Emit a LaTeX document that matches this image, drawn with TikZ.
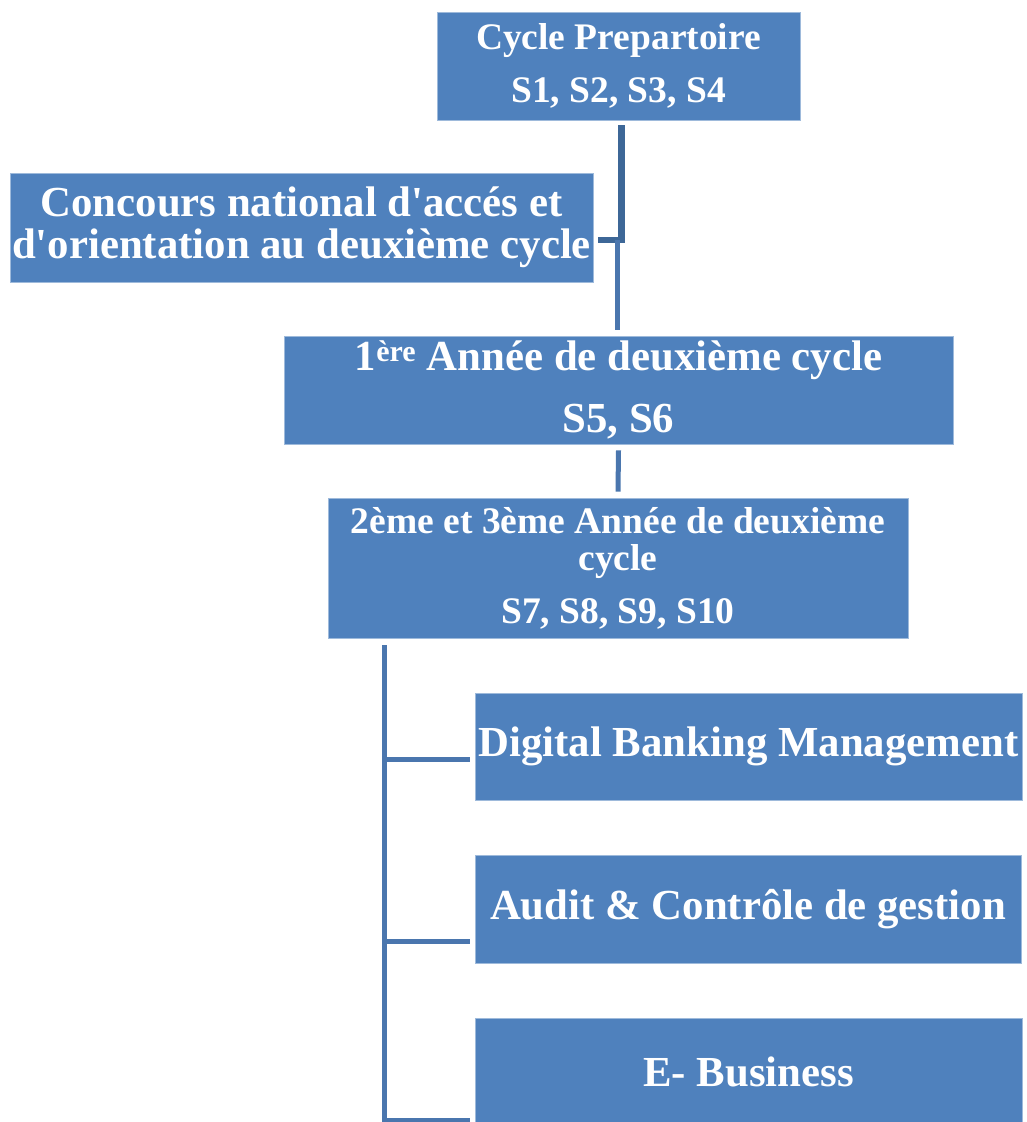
\documentclass[tikz,border=0pt]{standalone}
\usepackage{fontspec}
\setmainfont{Liberation Serif}
\usepackage{tikz}
\usetikzlibrary{calc,positioning}

\definecolor{boxblue}{HTML}{4F81BD}
\definecolor{linkblue}{HTML}{4A76AE}
\definecolor{darklink}{HTML}{3D6797}

\begin{document}
\begin{tikzpicture}[x=1pt,y=-1pt,
    stage/.style={fill=boxblue,draw=boxblue!55!white,line width=.8pt,
    text=white,align=center,inner sep=0pt},
    big/.style={font=\bfseries\fontsize{42.8}{42}\selectfont},
    small/.style={font=\bfseries\fontsize{37.5}{37}\selectfont},
    link/.style={draw=linkblue,line width=5pt},
    darklink/.style={draw=darklink,line width=6.5pt}]

  \useasboundingbox (0,0) rectangle (1027,1122);

  \node[stage,small,minimum width=363pt,minimum height=108pt] (PREP) at (618.5,66)
    {Cycle Prepartoire\\[16pt]S1, S2, S3, S4};
  \node[stage,big,minimum width=583pt,minimum height=109pt] (CONC) at (301.5,227.5)
    {Concours national d\textquotesingle accés et\\d\textquotesingle orientation au deuxième cycle};
  \node[stage,big,minimum width=669pt,minimum height=108pt] (FIRST) at (618.5,390)
    {1\textsuperscript{ère} Année de deuxième cycle\\[20pt]S5, S6};
  \node[stage,small,minimum width=580pt,minimum height=140pt] (SECOND) at (618,568)
    {2ème et 3ème Année de deuxième\\cycle\\[16pt]S7, S8, S9, S10};

  \node[stage,big,minimum width=547pt,minimum height=107pt] (DBM) at (748.5,746.5)
    {Digital Banking Management};
  \node[stage,big,minimum width=546pt,minimum height=108pt] (ACG) at (748,909)
    {Audit \& Contrôle de gestion};
  \node[stage,big,minimum width=547pt,minimum height=108pt] (EBIZ) at (748.5,1072)
    {E- Business};

  % junction of the first cycle
  \coordinate (J) at ($(PREP.south)!(CONC.east)!(FIRST.north)$);
  \draw[darklink] ([xshift=3pt,yshift=-5pt]PREP.south) |- ([xshift=5pt,yshift=-12.5pt]CONC.east);
  \draw[link] ([xshift=-1pt,yshift=-12.5pt]J) -- ([xshift=-1pt,yshift=6pt]FIRST.north);
  \draw[link] ([yshift=-6pt]FIRST.south) -- ([yshift=6pt]SECOND.north);

  % options of the second cycle
  \coordinate (RAIL) at ([xshift=57pt,yshift=-7pt]SECOND.south west);
  \draw[link] (RAIL) |- ([xshift=-5pt,yshift=-48pt]EBIZ.west);
  \draw[link] (RAIL) |- ([xshift=-5pt,yshift=-12.5pt]DBM.west);
  \draw[link] (RAIL) |- ([xshift=-5pt,yshift=-32pt]ACG.west);

\end{tikzpicture}
\end{document}
